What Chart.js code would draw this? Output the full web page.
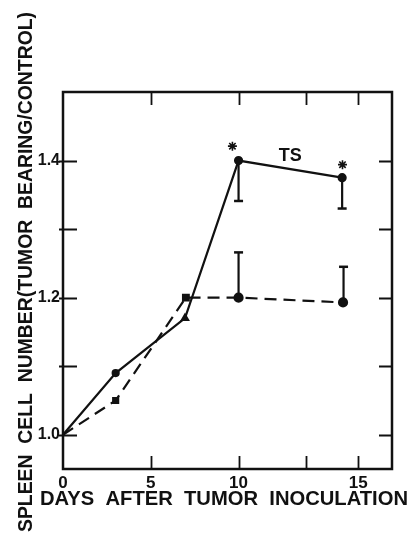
<!DOCTYPE html>
<html>
<head>
<meta charset="utf-8">
<script src="https://cdn.jsdelivr.net/npm/chart.js@4"></script>
<style>
  html, body { margin: 0; padding: 0; background: #fff; }
  #wrap { width: 412px; height: 535px; position: relative; }
</style>
</head>
<body>
<div id="wrap"><canvas id="spleenChart"></canvas></div>
<script>
// Values (x in plotted day units)
const tsDays = [0, 3.0, 6.95, 10, 15.9];
const tsValues = [1.0, 1.09, 1.17, 1.40, 1.375];
const ctrlDays = [0, 3.0, 7.0, 10, 15.95];
const ctrlValues = [1.0, 1.05, 1.20, 1.20, 1.193];

// error bars: [x, from, to]
const tsErrors = [[10, 1.40, 1.341], [15.9, 1.375, 1.330]];
const ctrlErrors = [[10, 1.20, 1.266], [15.98, 1.193, 1.245]];

// significance marks
const starX = [9.65, 15.92];
const starY = [1.421, 1.394];

const xTicks = [0, 5, 10, 13.86, 16.82];
const xTickLabels = ['0', '5', '10', '', '15'];
const yTicks = [1.0, 1.1, 1.2, 1.3, 1.4];
const yTickLabels = ['1.0', '', '1.2', '', '1.4'];

const seriesLabel = 'TS';
const xTitle = 'DAYS  AFTER  TUMOR  INOCULATION';
const yTitle = 'SPLEEN  CELL  NUMBER(TUMOR  BEARING/CONTROL)';

const INK = '#111';
const FONT = "'Liberation Sans', Arial, sans-serif";

function pts(xs, ys) {
  return xs.map((x, i) => ({ x: x, y: ys[i] }));
}

const datasets = [
  {
    label: 'TS',
    data: pts(tsDays, tsValues),
    borderColor: INK,
    backgroundColor: INK,
    borderWidth: 2.2,
    pointStyle: ['circle', 'circle', 'triangle', 'circle', 'circle'],
    pointRadius: [0, 3, 3.5, 3.5, 3.5],
    tension: 0
  },
  {
    label: 'Control',
    data: pts(ctrlDays, ctrlValues),
    borderColor: INK,
    backgroundColor: INK,
    borderWidth: 2.2,
    borderDash: [12, 7],
    pointStyle: ['circle', 'rect', 'rect', 'circle', 'circle'],
    pointRadius: [0, 3.5, 4, 4, 4],
    tension: 0
  },
  {
    label: 'stars',
    type: 'scatter',
    data: pts(starX, starY),
    borderColor: INK,
    backgroundColor: INK,
    pointStyle: 'star',
    pointRadius: 4.5,
    borderWidth: 1.6
  }
];

// each error bar is a tiny line dataset with a cap at its far end
tsErrors.concat(ctrlErrors).forEach(e => {
  datasets.push({
    label: 'err',
    data: [{ x: e[0], y: e[1] }, { x: e[0], y: e[2] }],
    borderColor: INK,
    backgroundColor: INK,
    borderWidth: 2.2,
    pointStyle: 'line',
    pointRadius: [0, 4.5],
    pointBorderWidth: 2.5
  });
});

// frame, inward ticks, titles and the TS label
const decorations = {
  id: 'decorations',
  afterDraw(chart) {
    const ctx = chart.ctx;
    const a = chart.chartArea;
    const xs = chart.scales.x;
    const ys = chart.scales.y;
    ctx.save();
    ctx.strokeStyle = INK;
    ctx.lineWidth = 2.5;
    ctx.strokeRect(a.left, a.top, a.right - a.left, a.bottom - a.top);

    ctx.lineWidth = 1.8;
    ctx.beginPath();
    yTicks.forEach(v => {
      const py = Math.round(ys.getPixelForValue(v)) + 0.5;
      ctx.moveTo(a.left - 4, py); ctx.lineTo(a.left + 14, py);
      ctx.moveTo(a.right - 13, py); ctx.lineTo(a.right + 1, py);
    });
    xTicks.forEach(v => {
      if (v === 0) return;
      const px = Math.round(xs.getPixelForValue(v)) + 0.5;
      ctx.moveTo(px, a.bottom); ctx.lineTo(px, a.bottom - 13);
      ctx.moveTo(px, a.top); ctx.lineTo(px, a.top + 13);
    });
    ctx.stroke();

    ctx.fillStyle = INK;
    ctx.textAlign = 'center';
    ctx.textBaseline = 'middle';

    // TS label next to the tumor-bearing curve
    ctx.font = 'bold 18px ' + FONT;
    ctx.fillText(seriesLabel, xs.getPixelForValue(12.94), ys.getPixelForValue(1.406));

    // x axis title, stretched to the width it spans in the figure
    ctx.font = 'bold 21px ' + FONT;
    let w = ctx.measureText(xTitle).width;
    ctx.save();
    ctx.translate(224, 499);
    ctx.scale(368 / w, 1);
    ctx.fillText(xTitle, 0, 0);
    ctx.restore();

    // y axis title
    w = ctx.measureText(yTitle).width;
    ctx.save();
    ctx.translate(26, 272);
    ctx.rotate(-Math.PI / 2);
    ctx.scale(520 / w, 1);
    ctx.fillText(yTitle, 0, 0);
    ctx.restore();

    ctx.restore();
  }
};

new Chart(document.getElementById('spleenChart'), {
  type: 'line',
  data: { datasets: datasets },
  options: {
    responsive: true,
    maintainAspectRatio: false,
    animation: false,
    layout: { padding: { top: 92, right: 20, left: 0, bottom: 0 } },
    scales: {
      x: {
        type: 'linear',
        min: 0,
        max: 18.74,
        afterBuildTicks: s => { s.ticks = xTicks.map(v => ({ value: v })); },
        afterFit: s => { s.height = 66; },
        grid: { display: false, drawTicks: false },
        border: { display: false },
        ticks: {
          padding: 4,
          color: INK,
          font: { family: FONT, size: 17, weight: 'bold' },
          callback: (v, i) => xTickLabels[i]
        }
      },
      y: {
        min: 0.95,
        max: 1.5,
        afterBuildTicks: s => { s.ticks = yTicks.map(v => ({ value: v })); },
        afterFit: s => { s.width = 63; },
        grid: { display: false, drawTicks: false },
        border: { display: false },
        ticks: {
          padding: 3,
          color: INK,
          font: { family: FONT, size: 16, weight: 'bold' },
          callback: (v, i) => yTickLabels[i]
        }
      }
    },
    plugins: {
      legend: { display: false },
      tooltip: { enabled: false }
    }
  },
  plugins: [decorations]
});
</script>
</body>
</html>
